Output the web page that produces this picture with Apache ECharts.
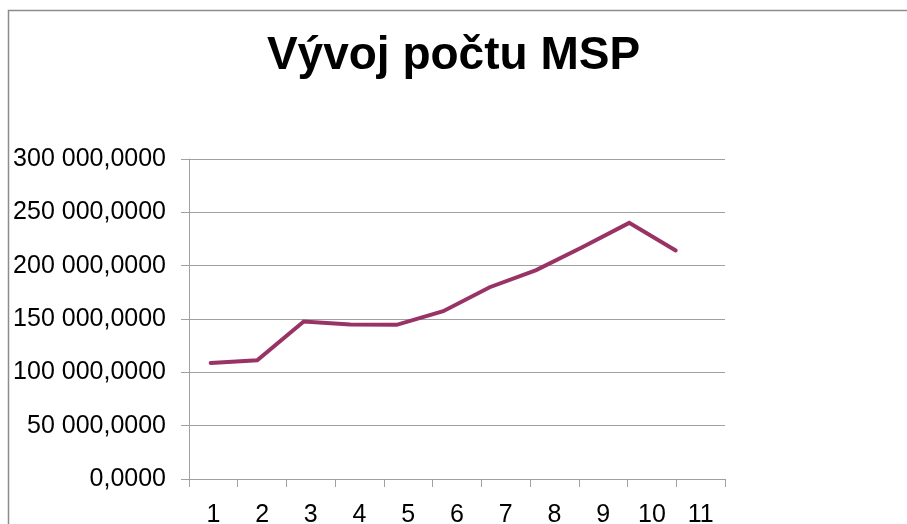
<!DOCTYPE html>
<html>
<head>
<meta charset="utf-8">
<script src="https://cdn.jsdelivr.net/npm/echarts@6/dist/echarts.min.js"></script>
<style>
    html, body { margin: 0; padding: 0; background: #fff; }
    #chart { width: 907px; height: 524px; }
</style>
</head>
<body>
<div id="chart"></div>
<script>
// Vývoj počtu MSP
var chartTitle = 'Vývoj počtu MSP';
var years = ['1', '2', '3', '4', '5', '6', '7', '8', '9', '10', '11'];
var mspCount = [108800, 111300, 147600, 144800, 144500, 157300, 179800, 195800, 217500, 240100, 214300];

var gridColor = '#a0a0a0';
var font = '"Liberation Sans", Arial, sans-serif';

// ciselny format s mezerou a ctyrmi desetinnymi misty
function fmt(v) {
    return String(v).replace(/\B(?=(\d{3})+(?!\d))/g, ' ') + ',0000';
}

var points = [];
years.forEach(function (y, i) {
    points.push([i + 1, mspCount[i]]);
});

var myChart = echarts.init(document.getElementById('chart'));
myChart.setOption({
    backgroundColor: '#fff',
    animation: false,
    title: {
        text: chartTitle,
        left: 'center',
        top: 28,
        textStyle: {
            fontFamily: font,
            fontSize: 46,
            fontWeight: 'bold',
            color: '#000'
        }
    },
    graphic: [{
        type: 'polyline',
        silent: true,
        shape: { points: [[8.5, 524], [8.5, 10.5], [907, 10.5]] },
        style: { stroke: '#8c8c8c', lineWidth: 1.5, fill: null }
    }],
    grid: {
        left: 189,
        right: 182,
        top: 159,
        bottom: 45,
        containLabel: false,
        outerBoundsMode: 'none'
    },
    xAxis: [{
        type: 'category',
        data: years,
        boundaryGap: true,
        axisLine: { show: true, lineStyle: { color: gridColor } },
        axisTick: { show: true, interval: 0, length: 8, lineStyle: { color: gridColor } },
        axisLabel: {
            interval: 0,
            margin: 24,
            fontFamily: font,
            fontSize: 25,
            color: '#000'
        },
        splitLine: { show: false }
    }, {
        // line in the picture is spaced a bit tighter than the categories
        type: 'value',
        show: false,
        min: 0.533,
        max: 12.06
    }],
    yAxis: {
        type: 'value',
        min: 0,
        max: 300000,
        interval: 50000,
        axisLine: { show: true, lineStyle: { color: gridColor } },
        axisTick: { show: true, length: 8, lineStyle: { color: gridColor } },
        axisLabel: {
            margin: 23,
            fontFamily: font,
            fontSize: 25,
            color: '#000',
            formatter: fmt
        },
        splitLine: { show: true, lineStyle: { color: gridColor, width: 1 } }
    },
    series: [{
        name: chartTitle,
        type: 'line',
        xAxisIndex: 1,
        data: points,
        symbol: 'none',
        lineStyle: { color: '#993366', width: 4, cap: 'round', join: 'miter' }
    }]
});
</script>
</body>
</html>
